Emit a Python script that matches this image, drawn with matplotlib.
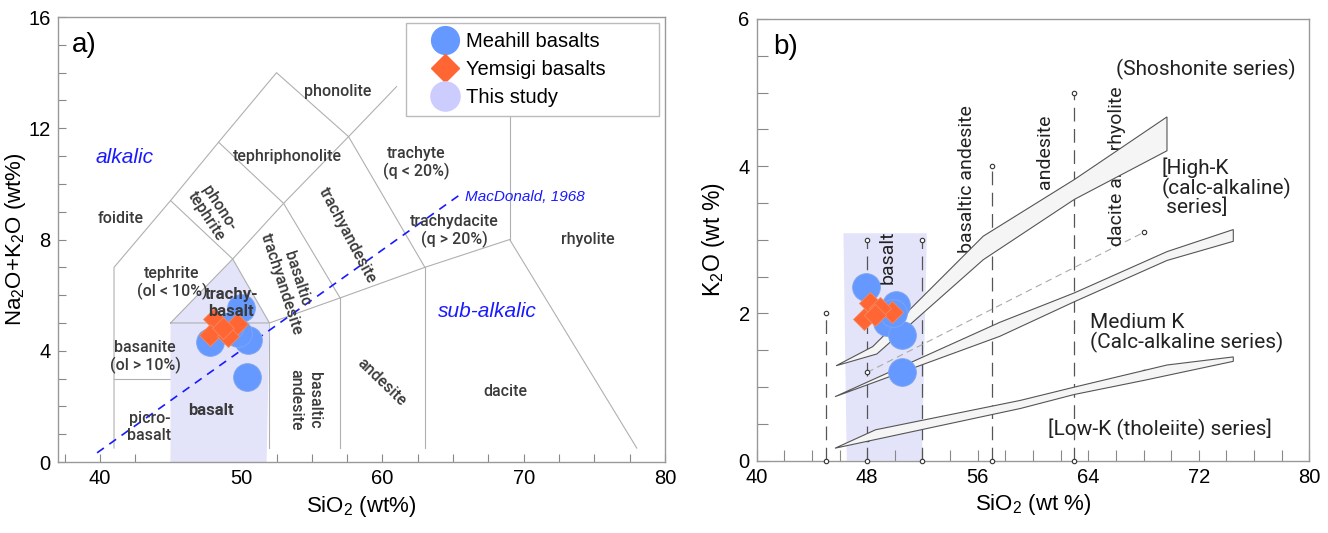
import numpy as np
import matplotlib
matplotlib.use('Agg')
from matplotlib import pyplot as plt
from matplotlib.patches import Polygon, Rectangle
from matplotlib.lines import Line2D

plt.rcParams['font.family'] = ['Liberation Sans', 'DejaVu Sans']
plt.rcParams['mathtext.default'] = 'regular'

# ---- muestras ----
# a) TAS
mea_sio2_tas = [50.0, 47.8, 50.5, 50.4, 49.8, 49.2]
mea_alk_tas = [5.53, 4.33, 4.39, 3.07, 4.65, 4.9]
yem_sio2_tas = [48.1, 47.8, 49.7, 49.1, 48.7]
yem_alk_tas = [5.15, 4.55, 4.98, 4.52, 4.82]

# b) K2O vs SiO2
mea_sio2_k = [47.9, 50.1, 49.4, 50.5, 50.5, 49.9]
mea_k2o = [2.36, 2.12, 1.89, 1.71, 1.21, 2.0]
yem_sio2_k = [48.2, 47.8, 49.8, 48.9, 48.6]
yem_k2o = [2.14, 1.93, 2.02, 2.07, 1.98]

# limites de campos TAS
tas_lines = [
    [(41, 0.5), (41, 7), (45, 9.4), (48.4, 11.5), (52.5, 14), (57.6, 11.7), (61, 13.5)],
    [(41, 3), (45, 3)],
    [(45, 9.4), (49.4, 7.3)],
    [(52, 5), (57, 5.9), (63, 7), (69, 8), (78, 0.5)],
    [(52, 0.5), (52, 5)],
    [(57, 0.5), (57, 5.9)],
    [(63, 0.5), (63, 7)],
    [(48.4, 11.5), (53, 9.3), (57, 5.9)],
    [(49.4, 7.3), (53, 9.3), (57.6, 11.7), (63, 7)],
    [(69, 8), (69, 13.2)],
]
study_edge_tas = [(45, 5), (49.4, 7.3), (52, 5), (45, 5)]
study_tas = [(45, 0), (45, 5), (49.4, 7.3), (52, 5), (51.8, 0)]
mac_x = [39.8, 65.7]
mac_y = [0.33, 9.69]

# bandas de series (Peccerillo & Taylor)
hk_sho_top = [(45.75, 1.29), (48.4, 1.55), (56.4, 3.05), (63, 3.82), (69.7, 4.67)]
hk_sho_bot = [(45.75, 1.29), (48.7, 1.45), (56.4, 2.73), (63, 3.55), (69.7, 4.21)]
mk_hk_top = [(45.67, 0.87), (57.6, 1.88), (63, 2.28), (69.7, 2.84), (74.5, 3.14)]
mk_hk_bot = [(45.67, 0.87), (57.6, 1.69), (63, 2.16), (69.7, 2.72), (74.5, 2.98)]
lk_mk_top = [(45.67, 0.17), (48.6, 0.42), (59.1, 0.82), (63, 1.0), (69.7, 1.30), (74.5, 1.41)]
lk_mk_bot = [(45.67, 0.17), (59.1, 0.71), (63, 0.9), (68, 1.09), (74.5, 1.35)]
lm_x = [48, 68]
lm_lk_mk = [0.3, 1.2]
lm_mk_hk = [1.2, 3.1]
div_x = [45, 48, 52, 57, 63]
div_top = [2, 3, 3, 4, 5]
extra_pts_x = [48, 48, 68, 68]
extra_pts_y = [0.3, 1.2, 1.2, 3.1]
study_k = [(46.28, 3.09), (52.32, 3.09), (51.96, 0), (46.52, 0)]

c_mea = '#6699ff'
c_yem = '#ff6633'
c_field = '#e3e3fa'
narrow = ['Liberation Sans Narrow', 'Roboto', 'DejaVu Sans']
din = ['Roboto', 'DejaVu Sans']
grey_txt = '#3a3a3a'

fig = plt.figure(figsize=(13.28, 5.33), dpi=100)
ax = fig.add_axes([0.0433, 0.1332, 0.4575, 0.8348])
ax2 = fig.add_axes([0.5698, 0.1356, 0.4161, 0.8288])

# ---------------- a) ----------------
for seg in tas_lines:
    seg = np.array(seg)
    ax.plot(seg[:, 0], seg[:, 1], color='#b0b0b0', lw=0.8, zorder=1)
ax.add_patch(Polygon(study_tas, closed=True, fc=c_field, ec='none', zorder=2))
se = np.array(study_edge_tas)
ax.plot(se[:, 0], se[:, 1], color='#b0b0b0', lw=0.8, zorder=3)
ax.plot(mac_x, mac_y, color='#1a1aff', lw=1.2, ls=(0, (5, 4)), zorder=3)
ax.text(65.85, 9.54, 'MacDonald, 1968', color='#1a1aff', style='italic',
        fontsize=11, ha='left', va='center', zorder=3)

lab = dict(family=narrow, color=grey_txt, fontsize=11.5, fontweight='medium',
           ha='center', va='center', zorder=4)
ax.text(56.8, 13.31, 'phonolite', **lab)
ax.text(53.3, 10.97, 'tephriphonolite', **lab)
ax.text(41.5, 8.74, 'foidite', **lab)
ax.text(48.0, 9.0, 'phono-\ntephrite', rotation=-57, linespacing=1.0, **lab)
ax.text(57.5, 8.14, 'trachyandesite', rotation=-62, **lab)
ax.text(53.4, 6.5, 'basaltic\ntrachyandesite', rotation=-72, linespacing=1.1, **lab)
ax.text(45.1, 6.44, 'tephrite\n(ol < 10%)', linespacing=1.15, **lab)
ax.text(43.2, 3.78, 'basanite\n(ol > 10%)', linespacing=1.15, **lab)
ax.text(43.5, 1.26, 'picro-\nbasalt', linespacing=1.15, **lab)
ax.text(54.5, 2.23, 'basaltic\nandesite', rotation=-90, linespacing=1.3, **lab)
ax.text(59.9, 2.88, 'andesite', rotation=-44, **lab)
ax.text(68.7, 2.53, 'dacite', **lab)
ax.text(74.5, 8.01, 'rhyolite', **lab)
ax.text(65.1, 8.31, 'trachydacite\n(q > 20%)', linespacing=1.15, **lab)
ax.text(62.4, 10.76, 'trachyte\n(q < 20%)', linespacing=1.15, **lab)
bold = {**lab, 'fontweight': 'bold', 'fontsize': 12}
ax.text(49.3, 5.72, 'trachy-\nbasalt', linespacing=1.1, **{**bold, 'zorder': 6})
ax.text(47.86, 1.85, 'basalt', **bold)
ax.text(41.77, 10.94, 'alkalic', color='#1a1aff', style='italic', fontsize=15,
        ha='center', va='center')
ax.text(67.4, 5.41, 'sub-alkalic', color='#1a1aff', style='italic', fontsize=15,
        ha='center', va='center')
ax.text(0.024, 0.937, 'a)', transform=ax.transAxes, fontsize=20, ha='left', va='center')

ax.plot(mea_sio2_tas, mea_alk_tas, 'o', ms=20, color=c_mea, mec='#7fa6f0',
        mew=0.6, ls='none', zorder=5)
ax.plot(yem_sio2_tas, yem_alk_tas, 'D', ms=11, color=c_yem, mec='#f08a66',
        mew=0.6, ls='none', zorder=5)

ax.set_xlim(37, 80)
ax.set_ylim(0, 16)
ax.set_xticks([40, 50, 60, 70, 80])
ax.set_xticks(np.arange(37.5, 80, 2.5), minor=True)
ax.set_yticks([0, 4, 8, 12, 16])
ax.set_yticks(np.arange(0, 16, 1), minor=True)
ax.set_xlabel(r'SiO$_2$ (wt%)', fontsize=16, labelpad=4)
ax.set_ylabel(r'Na$_2$O+K$_2$O (wt%)', fontsize=16)
ax.yaxis.set_label_coords(-0.049, 0.5)

# leyenda: marco propio + entradas
ax.add_patch(Rectangle((0.573, 0.7775), 0.4176, 0.2095, transform=ax.transAxes,
                       fc='white', ec='#bbbbbb', lw=1.0, zorder=9))
handles = [
    Line2D([], [], marker='o', ls='none', ms=20, color=c_mea, label='Meahill basalts'),
    Line2D([], [], marker='D', ls='none', ms=14, color=c_yem, label='Yemsigi basalts'),
    Line2D([], [], marker='o', ls='none', ms=21, color='#ccccff', label='This study'),
]
leg = ax.legend(handles=handles, loc='upper left', bbox_to_anchor=(0.615, 0.975),
                fontsize=14.5, frameon=False, handlelength=1.0, handletextpad=0.55,
                borderpad=0.2, labelspacing=0.45, borderaxespad=0)
leg.set_zorder(10)

# ---------------- b) ----------------
ax2.add_patch(Polygon(study_k, closed=True, fc=c_field, ec='none', zorder=1))
for x, top in zip(div_x, div_top):
    ax2.plot([x, x], [0, top], color='#555555', lw=0.9, ls=(0, (11, 6)), zorder=2)
    ax2.plot([x, x], [0, top], 'o', ms=3.2, mfc='white', mec='#333333', mew=0.8,
             ls='none', zorder=3, clip_on=False)
ax2.plot(extra_pts_x, extra_pts_y, 'o', ms=3.2, mfc='white', mec='#333333', mew=0.8,
         ls='none', zorder=3)
ax2.plot(lm_x, lm_lk_mk, color='#aaaaaa', lw=0.8, ls=(0, (6, 4)), zorder=2)
ax2.plot(lm_x, lm_mk_hk, color='#aaaaaa', lw=0.8, ls=(0, (6, 4)), zorder=2)

lab2 = dict(family=narrow, color='#222222', fontsize=14, rotation=90,
            ha='center', va='center', zorder=2)
ax2.text(49.5, 2.76, 'basalt', **{**lab2, 'zorder': 4})
ax2.text(55.2, 3.83, 'basaltic andesite', **lab2)
ax2.text(60.9, 4.19, 'andesite', **lab2)
ax2.text(66.1, 4.0, 'dacite and rhyolite', **lab2)

for top, bot in [(hk_sho_top, hk_sho_bot), (mk_hk_top, mk_hk_bot), (lk_mk_top, lk_mk_bot)]:
    verts = list(top) + list(reversed(bot[1:]))
    ax2.add_patch(Polygon(verts, closed=True, fc='#f5f5f5', ec='#555555', lw=0.8, zorder=3))

ser = dict(family=din, color='#222222', fontsize=15, ha='left', va='center')
ax2.text(66.0, 5.31, '(Shoshonite series)', **ser)
ax2.text(69.3, 3.71, '[High-K\n(calc-alkaline)\n series]', linespacing=0.95, **ser)
ax2.text(64.15, 1.73, 'Medium K\n(Calc-alkaline series)', linespacing=1.0, **ser)
ax2.text(61.1, 0.42, '[Low-K (tholeiite) series]', **ser)
ax2.text(0.0295, 0.937, 'b)', transform=ax2.transAxes, fontsize=20, ha='left', va='center')

ax2.plot(mea_sio2_k, mea_k2o, 'o', ms=20, color=c_mea, mec='#7fa6f0', mew=0.6,
         ls='none', zorder=5)
ax2.plot(yem_sio2_k, yem_k2o, 'D', ms=11, color=c_yem, mec='#f08a66', mew=0.6,
         ls='none', zorder=5)

ax2.set_xlim(40, 80)
ax2.set_ylim(0, 6)
ax2.set_xticks([40, 48, 56, 64, 72, 80])
ax2.set_xticks(np.arange(40, 80, 2), minor=True)
ax2.set_yticks([0, 2, 4, 6])
ax2.set_yticks(np.arange(0, 6, 0.5), minor=True)
ax2.set_xlabel(r'SiO$_2$ (wt %)', fontsize=16, labelpad=4)
ax2.set_ylabel(r'K$_2$O (wt %)', fontsize=16.5)
ax2.yaxis.set_label_coords(-0.054, 0.5)

for a, tl in [(ax, 6), (ax2, 8)]:
    for s in a.spines.values():
        s.set_color('#999999')
        s.set_linewidth(1.0)
    a.tick_params(which='both', direction='in', length=tl, width=0.8, color='#888888',
                  labelsize=14.5)
    a.tick_params(axis='x', which='both', pad=5)
    a.tick_params(axis='y', which='both', pad=5)

fig.savefig('out.png', dpi=100)
